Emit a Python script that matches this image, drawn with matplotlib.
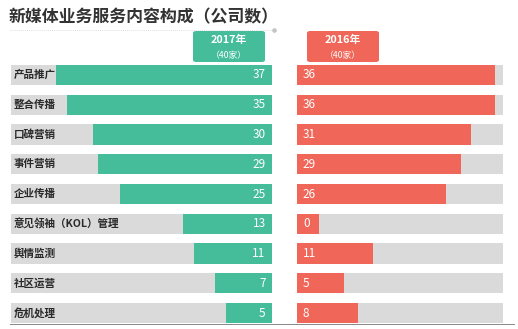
import matplotlib
matplotlib.use("Agg")
import matplotlib.pyplot as plt
from matplotlib.patches import FancyBboxPatch
from matplotlib.lines import Line2D
import numpy as np

plt.rcParams['font.family'] = ['Noto Sans CJK SC', 'DejaVu Sans']

title = "新媒体业务服务内容构成（公司数）"
categories = ["产品推广", "整合传播", "口碑营销", "事件营销", "企业传播",
              "意见领袖（KOL）管理", "舆情监测", "社区运营", "危机处理"]
v2017 = [37, 35, 30, 29, 25, 13, 11, 7, 5]
v2016 = [36, 36, 31, 29, 26, 0, 11, 5, 8]
header2017 = ["2017年", "（40家）"]
header2016 = ["2016年", "（40家）"]

GREEN = "#45BD9B"
RED = "#F06658"
TRACK = "#DADADA"

W, H = 518, 329
fig = plt.figure(figsize=(W / 100, H / 100), dpi=100)
fig.patch.set_facecolor("white")

def fx(px):
    return px / W

def fy(py):
    return 1 - py / H

y = np.arange(len(categories))
bar_h = 0.68

# Left panel (2017): bars grow leftwards from a small base stub
L_STUB, L_MAX = 3.77, 45.48
axL = fig.add_axes([fx(11), fy(328), fx(272 - 11), (328 - 60) / H])
axL.set_xlim(L_MAX, -L_STUB)
axL.set_ylim(len(categories) - 0.5, -0.5)
axL.barh(y, [L_MAX + L_STUB] * len(y), height=bar_h, color=TRACK, left=-L_STUB)
axL.barh(y, np.array(v2017) + L_STUB, height=bar_h, color=GREEN, left=-L_STUB)
for i, (c, v) in enumerate(zip(categories, v2017)):
    axL.text(L_MAX - 0.55, i, c, ha="left", va="center", fontsize=7.6,
             fontweight="bold", color="#2a2a2a")
    axL.text(-L_STUB + 1.2, i, str(v), ha="right", va="center", fontsize=8.5,
             color="white")
axL.axis("off")

# Right panel (2016)
R_STUB, R_MAX = 4.49, 37.55
axR = fig.add_axes([fx(297), fy(328), fx(503 - 297), (328 - 60) / H])
axR.set_xlim(-R_STUB, R_MAX)
axR.set_ylim(len(categories) - 0.5, -0.5)
axR.barh(y, [R_MAX + R_STUB] * len(y), height=bar_h, color=TRACK, left=-R_STUB)
axR.barh(y, np.array(v2016) + R_STUB, height=bar_h, color=RED, left=-R_STUB)
for i, v in enumerate(v2016):
    axR.text(-R_STUB + 1.2, i, str(v), ha="left", va="center", fontsize=8.5,
             color="white")
axR.axis("off")

# Title
fig.text(fx(9), fy(17), title, fontsize=12.2, fontweight="bold",
         color="#333333", ha="left", va="center")
fig.add_artist(Line2D([fx(10), fx(272)], [fy(29.5), fy(29.5)],
                      color="#d4d4d4", lw=0.6, ls=(0, (1, 1.5))))
fig.add_artist(Line2D([fx(274)], [fy(29.5)], marker="o", ms=2.3,
                      color="#c4c4c4", lw=0))

# Header boxes
def header(x0, x1, color, lines):
    box = FancyBboxPatch((fx(x0), fy(62)), fx(x1 - x0), (62 - 31) / H,
                         boxstyle="round,pad=0,rounding_size=0.006",
                         transform=fig.transFigure, facecolor=color,
                         edgecolor="none")
    fig.add_artist(box)
    cx = fx((x0 + x1) / 2)
    fig.text(cx, fy(40), lines[0], ha="center", va="center", fontsize=7.8,
             fontweight="bold", color="white")
    fig.text(cx, fy(55), lines[1], ha="center", va="center", fontsize=6.3,
             color="white")

header(193, 265, GREEN, header2017)
header(307, 379, RED, header2016)

# Bottom rule
fig.add_artist(Line2D([fx(10), fx(514)], [fy(323.5), fy(323.5)],
                      color="#888888", lw=0.7))

fig.savefig("out.png", dpi=100)
